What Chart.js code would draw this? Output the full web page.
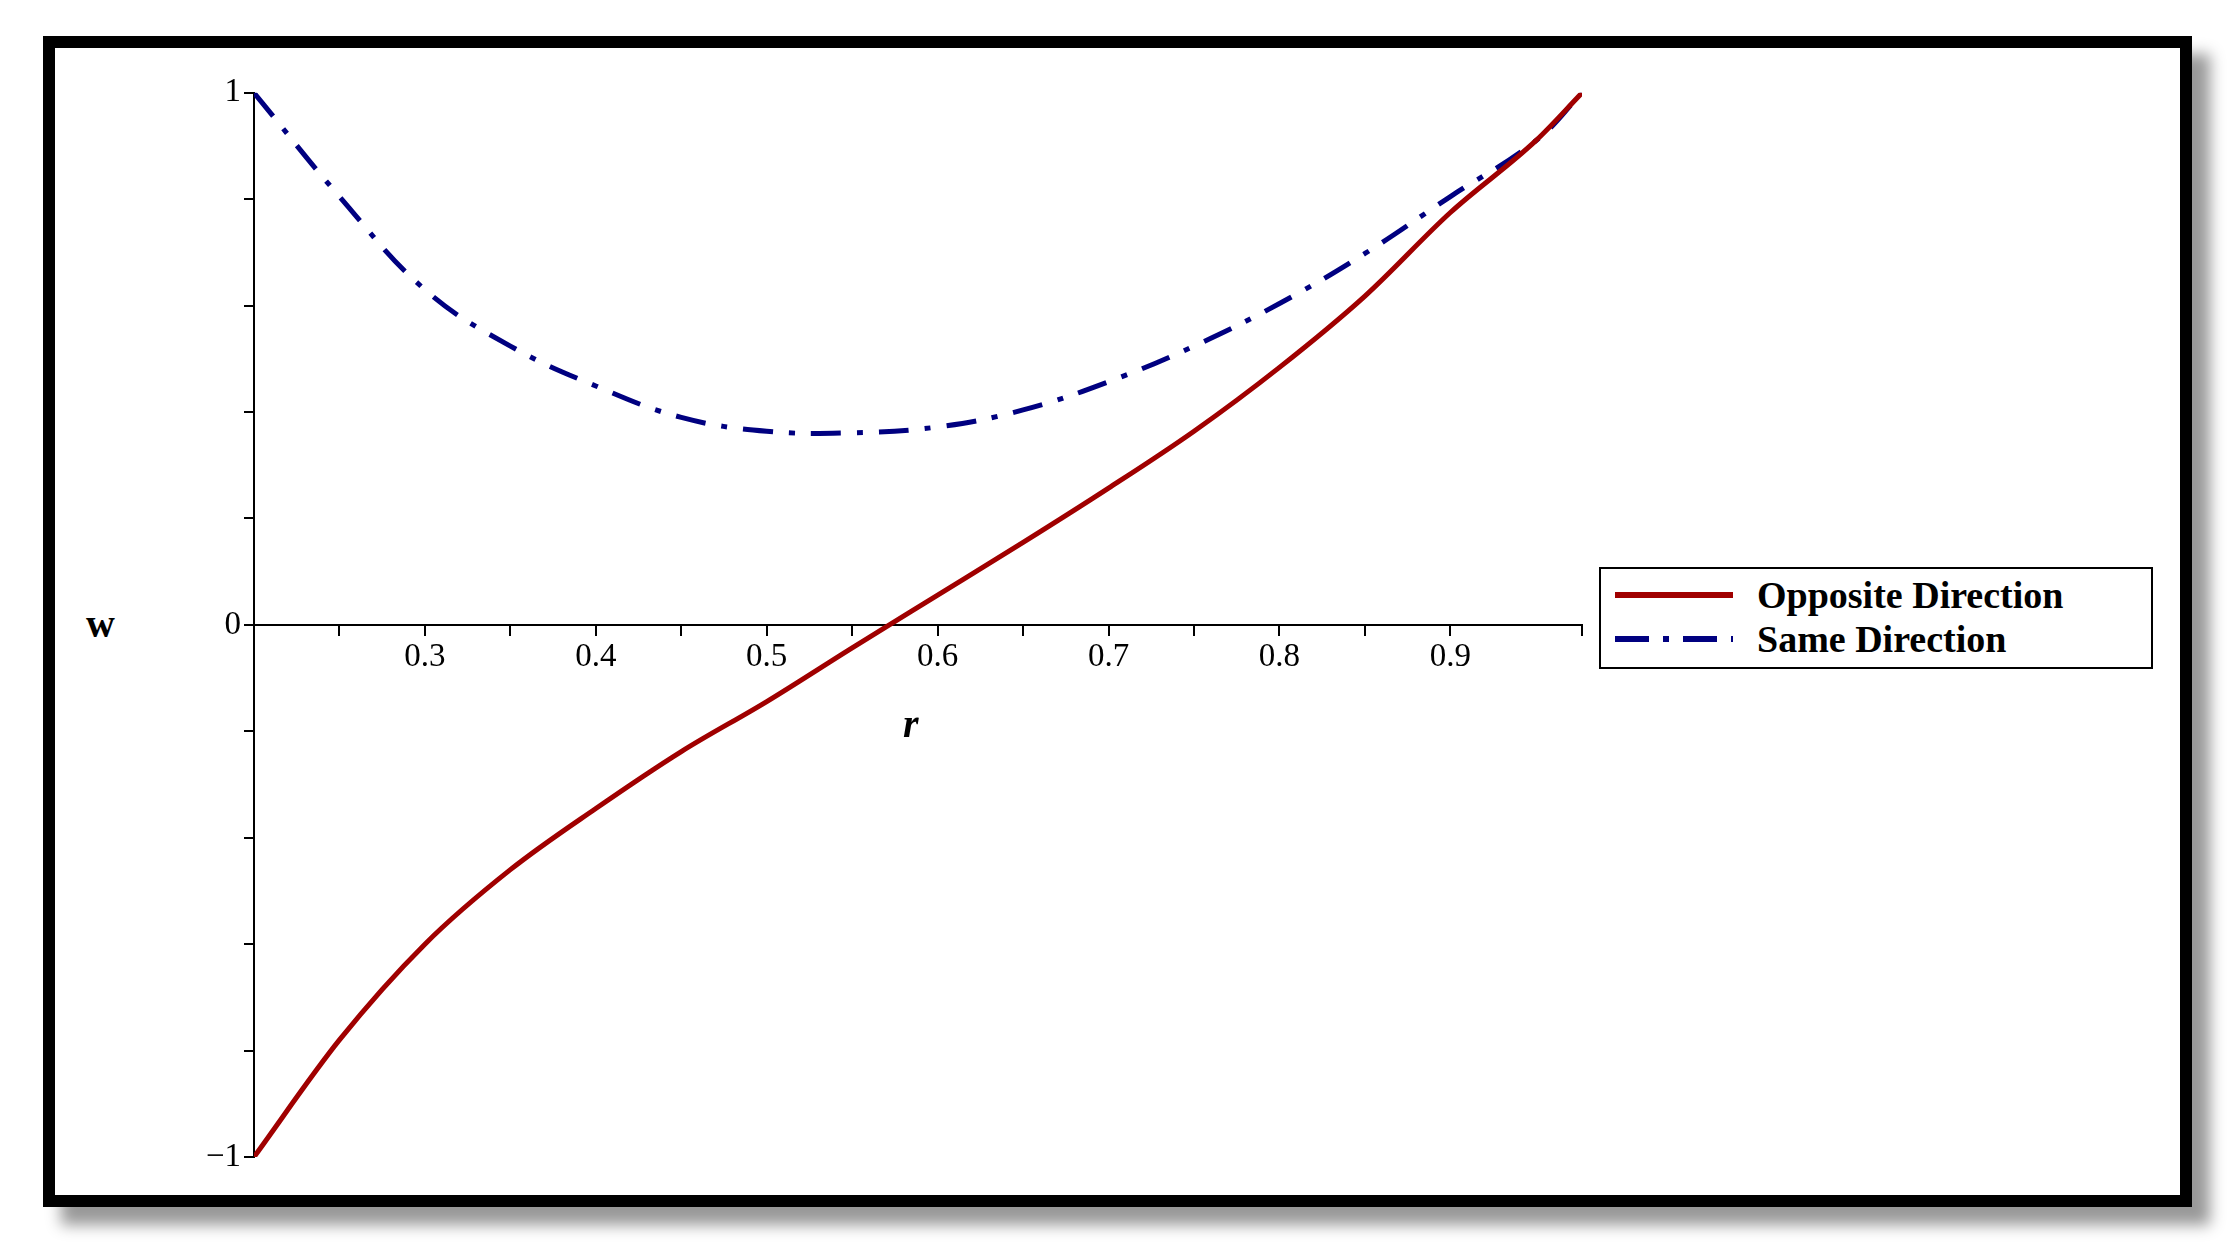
<!DOCTYPE html>
<html><head><meta charset="utf-8">
<script src="https://cdn.jsdelivr.net/npm/chart.js@4"></script>
<style>
body{margin:0;background:#fff;width:2239px;height:1253px;position:relative;overflow:hidden;font-family:"Liberation Serif",serif}
#frame{position:absolute;left:43px;top:36px;width:2125px;height:1147px;border:12px solid #000;box-shadow:18px 18px 14px #999}
#wrap{position:absolute;left:180px;top:70px;width:1420px;height:1110px}
#legend{position:absolute;left:1599px;top:567px;width:550px;height:98px;border:2px solid #000;background:#fff;font:bold 38px "Liberation Serif",serif}
.row{position:absolute;left:14px;height:44px;display:flex;align-items:center}
.row span{display:inline-block;width:118px;height:6px;margin-right:24px}
.lbl{position:absolute;font:bold 40px "Liberation Serif",serif}
</style></head><body>
<div id="frame"></div>
<div id="wrap"><canvas id="c"></canvas></div>
<div class="lbl" style="left:86px;top:600px">w</div>
<div class="lbl" style="left:903px;top:700px;font-style:italic">r</div>
<div id="legend">
 <div class="row" style="top:4px"><span style="background:#a00000"></span>Opposite Direction</div>
 <div class="row" style="top:48px"><span style="background:repeating-linear-gradient(90deg,#000080 0 34px,#fff 34px 48px,#000080 48px 54px,#fff 54px 68px)"></span>Same Direction</div>
</div>
<script>
var rValues = [0.2, 0.25, 0.3, 0.35, 0.4, 0.45, 0.5, 0.55, 0.6, 0.65, 0.7, 0.75, 0.8, 0.85, 0.9, 0.95, 0.977];
var oppositeW = [-1, -0.78, -0.6, -0.46, -0.345, -0.238, -0.144, -0.043, 0.056, 0.155, 0.257, 0.364, 0.484, 0.618, 0.775, 0.91, 1];
var sameW = [1, 0.805, 0.63, 0.524, 0.449, 0.39, 0.364, 0.361, 0.372, 0.404, 0.457, 0.524, 0.604, 0.698, 0.805, 0.91, 1];
var xTickLabels = ['0.3', '0.4', '0.5', '0.6', '0.7', '0.8', '0.9'];
var yTickLabels = ['-1', '0', '1'];

function pts(ys){
  return rValues.map(function(r, i){ return {x: r, y: ys[i]}; });
}

new Chart(document.getElementById('c'), {
  type: 'scatter',
  data: {datasets: [
    {data: pts(oppositeW), showLine: true, borderColor: '#a00000', borderWidth: 5, pointRadius: 0, cubicInterpolationMode: 'monotone'},
    {data: pts(sameW), showLine: true, borderColor: '#000080', borderWidth: 5, pointRadius: 0, tension: 0.4, borderDash: [30, 16, 6, 16]}
  ]},
  options: {
    animation: false, responsive: true, maintainAspectRatio: false,
    layout: {padding: {top: 19, bottom: 23, right: 18}},
    plugins: {legend: {display: false}, tooltip: {enabled: false}},
    scales: {
      x: {type: 'linear', min: 0.2, max: 0.977, position: {y: 0},
        border: {color: '#000', width: 2},
        grid: {drawOnChartArea: false, color: '#000', tickLength: 10, lineWidth: 2},
        ticks: {stepSize: 0.05, autoSkip: false, maxRotation: 0, color: '#000', font: {family: 'Liberation Serif', size: 33},
          callback: function(v){ var s = (Math.round(v * 100) / 100).toString(); return xTickLabels.indexOf(s) >= 0 ? s : ''; }}},
      y: {min: -1, max: 1, position: 'left',
        afterFit: function(s){ s.width = 74; },
        border: {color: '#000', width: 2},
        grid: {drawOnChartArea: false, color: '#000', tickLength: 10, lineWidth: 2},
        ticks: {stepSize: 0.2, autoSkip: false, color: '#000', font: {family: 'Liberation Serif', size: 33},
          callback: function(v){ var s = (Math.round(v * 10) / 10).toString(); return yTickLabels.indexOf(s) >= 0 ? s.replace('-', '\u2212') : ''; }}}
    }
  }
});
</script>
</body></html>
